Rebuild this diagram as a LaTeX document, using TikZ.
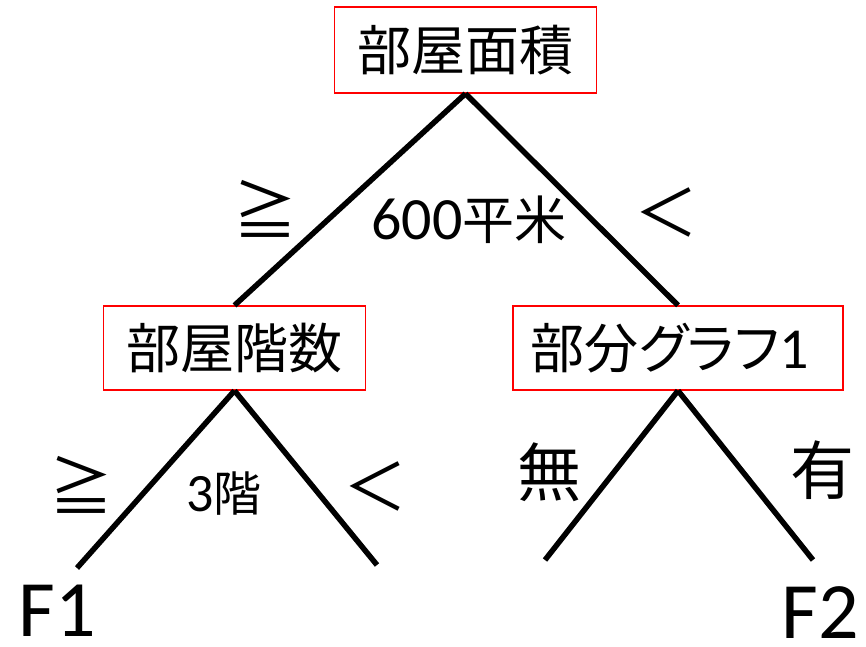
\documentclass[tikz,border=0pt]{standalone}
\usepackage{fontspec}
\setmainfont{Carlito}
\newfontfamily\cjk{Noto Sans CJK JP}

\begin{document}
\begin{tikzpicture}[x=1pt,y=1pt,
    testbox/.style={draw=red, line width=1.3pt, inner sep=0pt, font=\cjk\fontsize{54}{60}\selectfont},
    branch/.style={black, line width=5.5pt},
    mark label/.style={inner sep=0pt, font=\cjk\fontsize{64}{70}\selectfont},
    cond label/.style={inner sep=0pt, font=\fontsize{60}{66}\selectfont},
    leaf label/.style={inner sep=0pt, font=\fontsize{80}{86}\selectfont}]
    \useasboundingbox (0,0) rectangle (866,-646);
    \node[testbox, minimum width=262, minimum height=86] (area) at (465.5,-50) {部屋面積};
    \node[testbox, minimum width=262, minimum height=84] (floor) at (234.5,-348) {部屋階数};
    \node[testbox, minimum width=330, minimum height=84] (sub) at (678,-348)
        {\addfontfeatures{RawFeature=+palt}部分グラフ{\fontfamily{\rmdefault}\fontsize{58}{62}\selectfont 1}\hspace*{16pt}};
    \coordinate (f1tip) at (77,-568);
    \coordinate (lowtip) at (377,-565);
    \coordinate (notip) at (545,-560);
    \coordinate (f2tip) at (813,-560);
    \node[leaf label] (f1) at (57,-611) {F1};
    \node[leaf label] (f2) at (820,-613) {F2};
    \draw[branch] (area.south) -- (floor.north);
    \draw[branch] (area.south) -- (sub.north);
    \draw[branch] (floor.south) -- (f1tip);
    \draw[branch] (floor.south) -- (lowtip);
    \draw[branch] (sub.south) -- (notip);
    \draw[branch] (sub.south) -- (f2tip);
    % conditions
    \node[mark label] (geA) at (265,-209) {≧};
    \node[mark label] (ltA) at (666,-212) {＜};
    \node[cond label] (thrA) at (469,-220) {600{\cjk\fontsize{52}{58}\selectfont 平米}};
    \node[mark label] (geB) at (81,-485) {≧};
    \node[mark label] (ltB) at (375,-486) {＜};
    \node[cond label] (thrB) at (224,-494) {\fontsize{54}{60}\selectfont 3{\cjk\fontsize{48}{54}\selectfont 階}};
    \node[mark label] (none) at (549,-472) {無};
    \node[mark label] (have) at (822,-470) {有};
\end{tikzpicture}
\end{document}
